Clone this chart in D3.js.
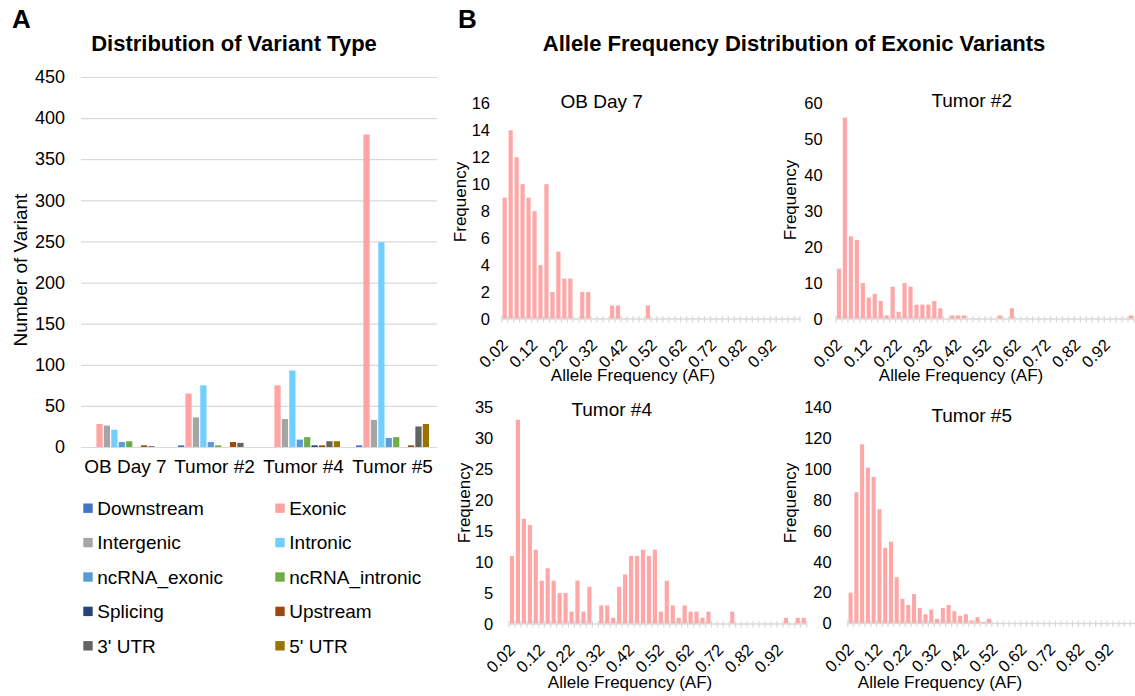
<!DOCTYPE html>
<html><head><meta charset="utf-8">
<script src="https://cdn.jsdelivr.net/npm/d3@7"></script>
<style>
body{margin:0;background:#fff}
svg{display:block}
text{font-family:"Liberation Sans",Arial,Helvetica,sans-serif;fill:#000}
</style>
</head><body>
<svg id="chart" width="1135" height="696"></svg>
<script>
// ---------------- DATA ----------------
const groups = ["OB Day 7", "Tumor #2", "Tumor #4", "Tumor #5"];
const seriesNames = ["Downstream", "Exonic", "Intergenic", "Intronic", "ncRNA_exonic",
  "ncRNA_intronic", "Splicing", "Upstream", "3' UTR", "5' UTR"];
// values per group: [OB Day 7, Tumor #2, Tumor #4, Tumor #5]
const downstream    = [0, 2, 0, 2];
const exonic        = [28, 65, 75, 380];
const intergenic    = [26, 36, 34, 33];
const intronic      = [21, 75, 93, 249];
const ncrnaExonic   = [6, 6, 9, 11];
const ncrnaIntronic = [7, 2, 12, 12];
const splicing      = [0, 0, 2, 0];
const upstream      = [2, 6, 2, 2];
const utr3          = [1, 5, 7, 25];
const utr5          = [0, 0, 7, 28];
const variantTicks  = [0, 50, 100, 150, 200, 250, 300, 350, 400, 450];

// allele frequency bins (upper edges)
const afBins = ["0.02","0.04","0.06","0.08","0.10","0.12","0.14","0.16","0.18","0.20",
  "0.22","0.24","0.26","0.28","0.30","0.32","0.34","0.36","0.38","0.40",
  "0.42","0.44","0.46","0.48","0.50","0.52","0.54","0.56","0.58","0.60",
  "0.62","0.64","0.66","0.68","0.70","0.72","0.74","0.76","0.78","0.80",
  "0.82","0.84","0.86","0.88","0.90","0.92","0.94","0.96","0.98","1.00"];
const afTickLabels = ["0.02","0.12","0.22","0.32","0.42","0.52","0.62","0.72","0.82","0.92"];

const freqObDay7 = [9,14,12,10,9,8,4,10,2,5, 3,3,0,2,2,0,0,0,1,1, 0,0,0,0,1,0,0,0,0,0,
  0,0,0,0,0,0,0,0,0,0, 0,0,0,0,0,0,0,0,0,0];
const freqTumor2 = [14,56,23,22,10,6,7,5,1,9, 2,10,9,4,4,4,5,3,0,1, 1,1,0,0,0,0,0,1,0,3,
  0,0,0,0,0,0,0,0,0,0, 0,0,0,0,0,0,0,0,0,1];
const freqTumor4 = [11,33,17,16,12,7,9,7,5,5, 2,7,2,6,0,3,3,1,6,8, 11,11,12,11,12,2,7,3,1,3,
  2,2,1,2,0,0,0,2,0,0, 0,0,0,0,0,0,1,0,1,1];
const freqTumor5 = [20,85,116,101,95,74,49,53,30,16, 12,19,10,6,9,3,10,12,8,5, 6,2,4,1,3,0,0,0,0,0,
  0,0,0,0,0,0,0,0,0,0, 0,0,0,0,0,0,0,0,0,0];
const ticksObDay7 = [0,2,4,6,8,10,12,14,16];
const ticksTumor2 = [0,10,20,30,40,50,60];
const ticksTumor4 = [0,5,10,15,20,25,30,35];
const ticksTumor5 = [0,20,40,60,80,100,120,140];

// ---------------- STYLE ----------------
const seriesColors = ["#4472c4","#ffa3a3","#a5a5a5","#70cfff","#5b9bd5",
  "#70ad47","#264478","#9e480e","#636363","#997300"];
const histColor = "#ffa6a6";
const gridColor = "#d9d9d9";

const svg = d3.select("#chart");

// ---------------- PANEL A ----------------
const seriesValues = [downstream, exonic, intergenic, intronic, ncrnaExonic,
  ncrnaIntronic, splicing, upstream, utr3, utr5];
const xA = d3.scaleBand().domain(groups).range([81, 437]);
const xInner = d3.scaleBand().domain(seriesNames).range([8, 81]).paddingInner(0.16);
const yA = d3.scaleLinear().domain([0, 450]).range([447, 77]);

svg.append("text").attr("x", 12).attr("y", 28).attr("font-size", 26)
  .attr("font-weight", "bold").text("A");
svg.append("text").attr("x", 234).attr("y", 51).attr("text-anchor", "middle")
  .attr("font-size", 22).attr("font-weight", "bold").text("Distribution of Variant Type");

const gy = svg.append("g").attr("transform", "translate(81,0)")
  .call(d3.axisLeft(yA).tickValues(variantTicks).tickSize(-356).tickPadding(16));
gy.select(".domain").remove();
gy.selectAll(".tick line").attr("stroke", gridColor).attr("stroke-width", 1.2);
gy.selectAll(".tick text").attr("font-size", 18).attr("fill", "#000");

const gx = svg.append("g").attr("transform", "translate(0,447)")
  .call(d3.axisBottom(xA).tickSize(0).tickPadding(13));
gx.select(".domain").remove();
gx.selectAll(".tick text").attr("font-size", 19).attr("fill", "#000");

const barRows = [];
groups.forEach((g, gi) => seriesNames.forEach((s, si) =>
  barRows.push({g, s, si, v: seriesValues[si][gi]})));
svg.append("g").selectAll("rect").data(barRows.filter(d => d.v > 0)).join("rect")
  .attr("x", d => xA(d.g) + xInner(d.s))
  .attr("width", xInner.bandwidth())
  .attr("y", d => yA(d.v))
  .attr("height", d => yA(0) - yA(d.v))
  .attr("fill", d => seriesColors[d.si]);

svg.append("text").attr("transform", "translate(20,270) rotate(-90)")
  .attr("dy", "0.35em").attr("text-anchor", "middle").attr("font-size", 19).text("Number of Variant");

// legend
const legend = svg.append("g");
seriesNames.forEach((s, i) => {
  const col = i % 2, row = Math.floor(i / 2);
  const lx = col === 0 ? 83.3 : 275.3;
  const ly = 508.3 + row * 34.4;
  legend.append("rect").attr("x", lx).attr("y", ly - 4.8).attr("width", 9.4).attr("height", 9.4)
    .attr("fill", seriesColors[i]);
  legend.append("text").attr("x", lx + 14).attr("y", ly).attr("dy", "0.35em")
    .attr("font-size", 19).text(s);
});

// ---------------- PANEL B ----------------
svg.append("text").attr("x", 458).attr("y", 28).attr("font-size", 26)
  .attr("font-weight", "bold").text("B");
svg.append("text").attr("x", 794).attr("y", 51).attr("text-anchor", "middle")
  .attr("font-size", 22).attr("font-weight", "bold")
  .text("Allele Frequency Distribution of Exonic Variants");

const panels = [
  {title: "OB Day 7", values: freqObDay7, ticks: ticksObDay7,
   x0: 501.7, x1: 800, y0: 319, yTop: 103.3, tickX: 490, titleX: 601.7, titleY: 101.7,
   freqX: 460, freqY: 202, afX: 633, afY: 375},
  {title: "Tumor #2", values: freqTumor2, ticks: ticksTumor2,
   x0: 836, x1: 1134, y0: 319, yTop: 103.3, tickX: 822.7, titleX: 971.7, titleY: 100,
   freqX: 790, freqY: 200, afX: 961, afY: 375},
  {title: "Tumor #4", values: freqTumor4, ticks: ticksTumor4,
   x0: 509, x1: 806.7, y0: 624, yTop: 407.3, tickX: 493.3, titleX: 611.7, titleY: 409.2,
   freqX: 464, freqY: 503, afX: 630, afY: 682},
  {title: "Tumor #5", values: freqTumor5, ticks: ticksTumor5,
   x0: 847.7, x1: 1136, y0: 623.5, yTop: 407.3, tickX: 831.7, titleX: 971.7, titleY: 415.8,
   freqX: 790, freqY: 503, afX: 940, afY: 682}
];

panels.forEach(p => {
  const g = svg.append("g");
  const x = d3.scaleBand().domain(afBins).range([p.x0, p.x1]).paddingInner(0.3).paddingOuter(0.15);
  const y = d3.scaleLinear().domain([0, d3.max(p.ticks)]).range([p.y0, p.yTop]);

  g.append("text").attr("x", p.titleX).attr("y", p.titleY).attr("dy", "0.35em")
    .attr("text-anchor", "middle").attr("font-size", 19).text(p.title);

  const ay = g.append("g").attr("transform", `translate(${p.tickX},0)`)
    .call(d3.axisLeft(y).tickValues(p.ticks).tickSize(0).tickPadding(0));
  ay.select(".domain").remove();
  ay.selectAll(".tick text").attr("font-size", 16.5).attr("fill", "#000");

  g.append("text").attr("transform", `translate(${p.freqX},${p.freqY}) rotate(-90)`)
    .attr("dy", "0.35em").attr("text-anchor", "middle").attr("font-size", 17).text("Frequency");

  g.append("g").selectAll("rect").data(afBins.map((b, i) => ({b, v: p.values[i]})).filter(d => d.v > 0))
    .join("rect")
    .attr("x", d => x(d.b)).attr("width", x.bandwidth())
    .attr("y", d => y(d.v)).attr("height", d => y(0) - y(d.v))
    .attr("fill", histColor);

  // category axis with crossing tick marks at bin boundaries
  const step = x.step();
  g.append("line").attr("x1", p.x0).attr("x2", p.x1).attr("y1", p.y0).attr("y2", p.y0)
    .attr("stroke", gridColor).attr("stroke-width", 1.5);
  g.append("g").selectAll("line").data(d3.range(afBins.length + 1)).join("line")
    .attr("x1", k => p.x0 + k * step).attr("x2", k => p.x0 + k * step)
    .attr("y1", p.y0 - 3).attr("y2", p.y0 + 3.5)
    .attr("stroke", gridColor).attr("stroke-width", 1.2);

  g.append("g").selectAll("text").data(afTickLabels).join("text")
    .attr("transform", d => `translate(${x(d) + x.bandwidth() / 2},${p.y0 + 23}) rotate(-45)`)
    .attr("dy", "0.35em").attr("text-anchor", "end").attr("font-size", 16.5).text(d => d);

  g.append("text").attr("x", p.afX).attr("y", p.afY).attr("dy", "0.35em")
    .attr("text-anchor", "middle").attr("font-size", 17).text("Allele Frequency (AF)");
});
</script>
</body></html>
